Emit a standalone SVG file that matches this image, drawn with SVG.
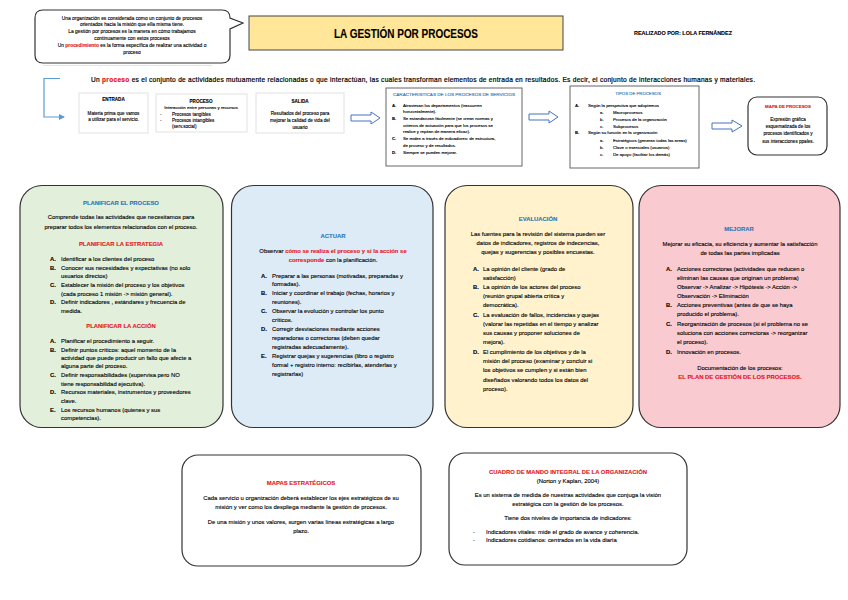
<svg xmlns="http://www.w3.org/2000/svg" width="848" height="600" viewBox="0 0 848 600">
<style>
text{font-family:"Liberation Sans",Arial,sans-serif;fill:#000;font-size:5.9px;stroke:#000;stroke-width:0.12px}
.c{text-anchor:middle}
.b{font-weight:bold}
.h{font-weight:bold;fill:#2E75B6;stroke:#2E75B6}
.r{font-weight:bold;fill:#E3171C;stroke:#E3171C}
.s{font-size:4.6px}
.xs{font-size:4.3px}
.box{stroke:#333;stroke-width:1.2}
.io{fill:#fff;stroke:#e2e2e2;stroke-width:1}
.ha{fill:#fff;stroke:#4472C4;stroke-width:1}
.conn{fill:none;stroke:#5B9BD5;stroke-width:1.2}
</style>
<defs>
<marker id="ah" markerWidth="6" markerHeight="6" refX="5" refY="3" orient="auto" markerUnits="userSpaceOnUse">
<path d="M0,0 L6,3 L0,6 Z" fill="#5B9BD5"/>
</marker>
</defs>
<rect width="848" height="600" fill="#fff"/>

<g id="callout">
<path d="M43,10 H222 Q230,10 230,18 L243,23 L230,29 V55 Q230,63 222,63 H43 Q35,63 35,55 V18 Q35,10 43,10 Z" fill="#fff" stroke="#333" stroke-width="1.2"/>
<text class="c" x="132" y="19.5" style="font-size:4.9px">Una organización es considerada como un conjunto de procesos</text>
<text class="c" x="132" y="26.2" style="font-size:4.9px">orientados hacia la misión que ella misma tiene.</text>
<text class="c" x="132" y="33" style="font-size:4.9px">La gestión por procesos es la manera en cómo trabajamos</text>
<text class="c" x="132" y="40" style="font-size:4.9px">continuamente con estos procesos</text>
<text class="c" x="132" y="47" style="font-size:4.9px">Un <tspan class="r">procedimiento</tspan> es la forma específica de realizar una actividad o</text>
<text class="c" x="132" y="54.3" style="font-size:4.9px">proceso</text>
</g>
<line x1="43" y1="65.5" x2="212" y2="65.5" stroke="#e4e4e4" stroke-width="1"/>

<g id="title">
<rect x="249" y="16" width="314" height="34" fill="#FFE699" stroke="#444" stroke-width="1"/>
<text class="c b" x="406" y="37.5" style="font-size:12px" textLength="144" lengthAdjust="spacingAndGlyphs">LA GESTIÓN POR PROCESOS</text>
</g>
<g id="author">
<text class="b" x="634" y="34.5" style="font-size:5.6px" textLength="98" lengthAdjust="spacingAndGlyphs">REALIZADO POR: LOLA FERNÁNDEZ</text>
</g>

<g id="definicion">
<text x="91" y="82.3" style="font-size:6.6px;stroke-width:0.2px" textLength="664" lengthAdjust="spacing">Un <tspan class="r">proceso</tspan> es el conjunto de actividades mutuamente relacionadas o que interactúan, las cuales transforman elementos de entrada en resultados. Es decir,  el conjunto de interacciones humanas y materiales.</text>
</g>

<g id="connectors">
<path class="conn" d="M60,78.5 H44 V117 H64" marker-end="url(#ah)"/>
<polygon class="ha" points="351,115 371,115 371,112 380,118 371,124 371,121 351,121"/>
<polygon class="ha" points="529,114 549,114 549,111 558,117 549,123 549,120 529,120"/>
<polygon class="ha" points="712,123 732,123 732,120 742,126 732,132 732,129 712,129"/>
</g>

<g id="entrada">
<rect class="io" x="79" y="93" width="69" height="40"/>
<text class="c b s" x="113.5" y="101">ENTRADA</text>
<text class="c s" x="113.5" y="114.5">Materia prima que vamos</text>
<text class="c s" x="113.5" y="120.5">a utilizar para el servicio.</text>
</g>
<g id="proceso">
<rect class="io" x="156" y="94" width="91" height="38"/>
<text class="c b s" x="201" y="102.5">PROCESO</text>
<text class="c s" x="201" y="109" style="font-size:4.4px">Interacción entre personas y recursos</text>
<text class="s" x="160" y="115.5">-</text><text class="s" x="172" y="115.5">Procesos tangibles</text>
<text class="s" x="160" y="121.5">-</text><text class="s" x="172" y="121.5">Procesos intangibles</text>
<text class="s" x="172" y="128">(serv.social)</text>
</g>
<g id="salida">
<rect class="io" x="256" y="93" width="88" height="40"/>
<text class="c b s" x="300" y="102.5">SALIDA</text>
<text class="c s" x="300" y="114.5">Resultados del proceso para</text>
<text class="c s" x="300" y="121.5">mejorar la calidad de vida del</text>
<text class="c s" x="300" y="128.5">usuario</text>
</g>

<g id="caracteristicas">
<rect x="386" y="88" width="136" height="78" fill="#fff" stroke="#666" stroke-width="1"/>
<text class="c xs" x="454" y="95.5" style="fill:#2E75B6;stroke:#2E75B6" textLength="122" lengthAdjust="spacingAndGlyphs">CARACTERISTICAS DE LOS PROCESOS DE SERVICIOS</text>
<text class="b xs" x="392" y="106.5">A.</text><text class="xs" x="403" y="106.5">Atraviesan los departamentos (trascurren</text>
<text class="xs" x="403" y="113">horizontalmente).</text>
<text class="b xs" x="392" y="120">B.</text><text class="xs" x="403" y="120">Se estandarizan fácilmente (se crean normas y</text>
<text class="xs" x="403" y="126.5">criterios de actuación para que los procesos se</text>
<text class="xs" x="403" y="133">realice y repitan de manera eficaz).</text>
<text class="b xs" x="392" y="140">C.</text><text class="xs" x="403" y="140">Se miden a través de indicadores: de estructura,</text>
<text class="xs" x="403" y="146.5">de proceso y de resultados.</text>
<text class="b xs" x="392" y="153.5">D.</text><text class="xs" x="403" y="153.5">Siempre se pueden mejorar.</text>
</g>

<g id="tipos">
<rect x="570" y="86" width="129" height="82" fill="#fff" stroke="#666" stroke-width="1"/>
<text class="c xs" x="638" y="94.5" style="fill:#2E75B6;stroke:#2E75B6">TIPOS DE PROCESOS</text>
<text class="b xs" x="575" y="106.5">A.</text><text class="xs" x="588" y="106.5">Según la perspectiva que adoptemos</text>
<text class="xs" x="600" y="114">a.</text><text class="xs" x="613" y="114">Macroprocesos</text>
<text class="xs" x="600" y="120.5">b.</text><text class="xs" x="613" y="120.5">Procesos de la organización</text>
<text class="xs" x="600" y="127.5">c.</text><text class="xs" x="613" y="127.5">Subprocesos</text>
<text class="b xs" x="575" y="134">B.</text><text class="xs" x="588" y="134">Según su función en la organización</text>
<text class="xs" x="600" y="141.5">a.</text><text class="xs" x="613" y="141.5">Estratégicos (generan todas las areas)</text>
<text class="xs" x="600" y="148.5">b.</text><text class="xs" x="613" y="148.5">Clave o esenciales (usuarios)</text>
<text class="xs" x="600" y="155.5">c.</text><text class="xs" x="613" y="155.5">De apoyo (facilitar los demás)</text>
</g>

<g id="mapa-procesos">
<rect x="748" y="97" width="79" height="58" rx="9" fill="#fff" stroke="#333" stroke-width="1.2"/>
<text class="c r" x="788" y="107.5" style="font-size:4.4px">MAPA DE PROCESOS</text>
<text class="c" x="788" y="120.5" style="font-size:4.6px">Expresión gráfica</text>
<text class="c" x="788" y="128" style="font-size:4.6px">esquematizada de los</text>
<text class="c" x="788" y="135" style="font-size:4.6px">procesos identificados y</text>
<text class="c" x="788" y="142.5" style="font-size:4.6px">sus interacciones ppales.</text>
</g>

<g id="planificar">
<rect class="box" x="20" y="185.5" width="203" height="242" rx="22" fill="#E2EFDA"/>
<text class="c h" x="121" y="205">PLANIFICAR EL PROCESO</text>
<text class="c" x="121" y="219">Comprende todas las actividades que necesitamos para</text>
<text class="c" x="121" y="228.5">preparar todos los elementos relacionados con el proceso.</text>
<text class="c r" x="121" y="246">PLANIFICAR LA ESTRATEGIA</text>
<text class="b" x="50" y="261">A.</text><text x="61" y="261">Identificar  a los clientes del proceso</text>
<text class="b" x="50" y="269.5">B.</text><text x="61" y="269.5">Conocer sus necesidades y expectativas (no solo</text>
<text x="61" y="278">usuarios directos)</text>
<text class="b" x="50" y="287">C.</text><text x="61" y="287">Establecer la misión del proceso y los objetivos</text>
<text x="61" y="295.5">(cada proceso 1 misión -&gt; misión general).</text>
<text class="b" x="50" y="304">D.</text><text x="61" y="304">Definir indicadores , estándares y frecuencia de</text>
<text x="61" y="312.5">medida.</text>
<text class="c r" x="121" y="328">PLANIFICAR LA ACCIÓN</text>
<text class="b" x="50" y="343">A.</text><text x="61" y="343">Planificar el procedimiento a seguir.</text>
<text class="b" x="50" y="351.5">B.</text><text x="61" y="351.5">Definir puntos críticos: aquel momento de la</text>
<text x="61" y="359.5">actividad que puede producir un fallo que afecte a</text>
<text x="61" y="368">alguna parte del proceso.</text>
<text class="b" x="50" y="377">C.</text><text x="61" y="377">Definir responsabilidades (supervisa pero NO</text>
<text x="61" y="385.5">tiene responsabilidad ejecutiva).</text>
<text class="b" x="50" y="394">D.</text><text x="61" y="394">Recursos materiales, instrumentos y proveedores</text>
<text x="61" y="403">clave.</text>
<text class="b" x="50" y="411.5">E.</text><text x="61" y="411.5">Los recursos humanos (quienes y sus</text>
<text x="61" y="420">competencias).</text>
</g>

<g id="actuar">
<rect class="box" x="231.5" y="185.5" width="201.5" height="242" rx="22" fill="#DDEBF7"/>
<text class="c h" x="333" y="237.5">ACTUAR</text>
<text class="c" x="333" y="252.5">Observar <tspan class="r">cómo se realiza el proceso y si la acción se</tspan></text>
<text class="c" x="333" y="261.5"><tspan class="r">corresponde</tspan> con la planificación.</text>
<text class="b" x="261" y="277.5">A.</text><text x="272" y="277.5">Preparar a las personas (motivadas, preparadas y</text>
<text x="272" y="286">formadas).</text>
<text class="b" x="261" y="295">B.</text><text x="272" y="295">Iniciar y coordinar el trabajo (fechas, horarios y</text>
<text x="272" y="304">reuniones).</text>
<text class="b" x="261" y="313">C.</text><text x="272" y="313">Observar la evolución y controlar los punto</text>
<text x="272" y="321.5">críticos.</text>
<text class="b" x="261" y="330.5">D.</text><text x="272" y="330.5">Corregir desviaciones mediante acciones</text>
<text x="272" y="339.5">reparadoras o correctoras (deben quedar</text>
<text x="272" y="348.5">registradas adecuadamente).</text>
<text class="b" x="261" y="358">E.</text><text x="272" y="358">Registrar quejas y sugerencias (libro o registro</text>
<text x="272" y="367">formal + registro interno: recibirlas, atenderlas y</text>
<text x="272" y="376">registrarlas)</text>
</g>

<g id="evaluacion">
<rect class="box" x="445" y="185.5" width="188" height="242" rx="22" fill="#FFF2CC"/>
<text class="c h" x="538" y="220.5">EVALUACIÓN</text>
<text class="c" x="538" y="235.5">Las fuentes para la revisión del sistema pueden ser</text>
<text class="c" x="538" y="244.5">datos de indicadores, registros de indecencias,</text>
<text class="c" x="538" y="253.5">quejas y sugerencias y posibles encuestas.</text>
<text class="b" x="473" y="270.5">A.</text><text x="483" y="270.5">La opinión del cliente (grado de</text>
<text x="483" y="279.5">satisfacción)</text>
<text class="b" x="473" y="289">B.</text><text x="483" y="289">La opinión de los actores del proceso</text>
<text x="483" y="298">(reunión grupal abierta crítica y</text>
<text x="483" y="307">democrática).</text>
<text class="b" x="473" y="316.5">C.</text><text x="483" y="316.5">La evaluación de fallos, incidencias y quejas</text>
<text x="483" y="326">(valorar las repetidas en el tiempo y analizar</text>
<text x="483" y="335">sus causas y proponer soluciones de</text>
<text x="483" y="344">mejora).</text>
<text class="b" x="473" y="354">D.</text><text x="483" y="354">El cumplimiento de los objetivos y de la</text>
<text x="483" y="363">misión del proceso (examinar y concluir si</text>
<text x="483" y="372">los objetivos se cumplen y si están bien</text>
<text x="483" y="381.5">diseñados valorando todos los datos del</text>
<text x="483" y="391">proceso).</text>
</g>

<g id="mejorar">
<rect class="box" x="639" y="185.5" width="201" height="242" rx="22" fill="#F9CBD0"/>
<text class="c h" x="739" y="230.5">MEJORAR</text>
<text class="c" x="740" y="245.5">Mejorar su eficacia, su eficiencia y aumentar la satisfacción</text>
<text class="c" x="740" y="255">de todas las partes implicadas</text>
<text class="b" x="666" y="271">A.</text><text x="677" y="271">Acciones correctoras (actividades que  reducen o</text>
<text x="677" y="280">eliminan las causas que originan un problema)</text>
<text x="677" y="289">Observar -&gt; Analizar -&gt; Hipótesis -&gt; Acción -&gt;</text>
<text x="677" y="297.5">Observación -&gt; Eliminación</text>
<text class="b" x="666" y="307">B.</text><text x="677" y="307">Acciones preventivas (antes de que se haya</text>
<text x="677" y="316">producido el problema).</text>
<text class="b" x="666" y="326">C.</text><text x="677" y="326">Reorganización de procesos (si el problema no se</text>
<text x="677" y="335">soluciona con acciones correctoras -&gt; reorganizar</text>
<text x="677" y="344">el proceso).</text>
<text class="b" x="666" y="354">D.</text><text x="677" y="354">Innovación en procesos.</text>
<text class="c" x="740" y="370">Documentación de los procesos:</text>
<text class="c r" x="740" y="379">EL PLAN DE GESTIÓN DE LOS PROCESOS.</text>
</g>

<g id="mapas-estrategicos">
<rect class="box" x="182" y="455" width="239" height="111" rx="16" fill="#fff"/>
<text class="c r" x="301" y="485">MAPAS ESTRATÉGICOS</text>
<text class="c" x="301" y="500">Cada servicio u organización deberá establecer los ejes estratégicos de su</text>
<text class="c" x="301" y="509">misión y ver como los despliega mediante la gestión de procesos.</text>
<text class="c" x="301" y="524">De una misión y unos valores, surgen varias líneas estratégicas a largo</text>
<text class="c" x="301" y="533">plazo.</text>
</g>

<g id="cuadro-mando">
<rect class="box" x="449" y="453" width="238" height="112" rx="16" fill="#fff"/>
<text class="c r" x="568" y="474">CUADRO DE MANDO INTEGRAL DE LA ORGANIZACIÓN</text>
<text class="c" x="568" y="483">(Norton y Kaplan, 2004)</text>
<text class="c" x="568" y="497">Es un sistema de medida de nuestras actividades que conjuga la visión</text>
<text class="c" x="568" y="505.5">estratégica con la gestión de los procesos.</text>
<text class="c" x="568" y="520">Tiene dos niveles de importancia de indicadores:</text>
<text x="473" y="534">-</text><text x="486" y="534">Indicadores vitales: mide el grado de avance y coherencia.</text>
<text x="473" y="541.5">-</text><text x="486" y="541.5">Indicadores cotidianos: centrados en la vida diaria</text>
</g>
</svg>
